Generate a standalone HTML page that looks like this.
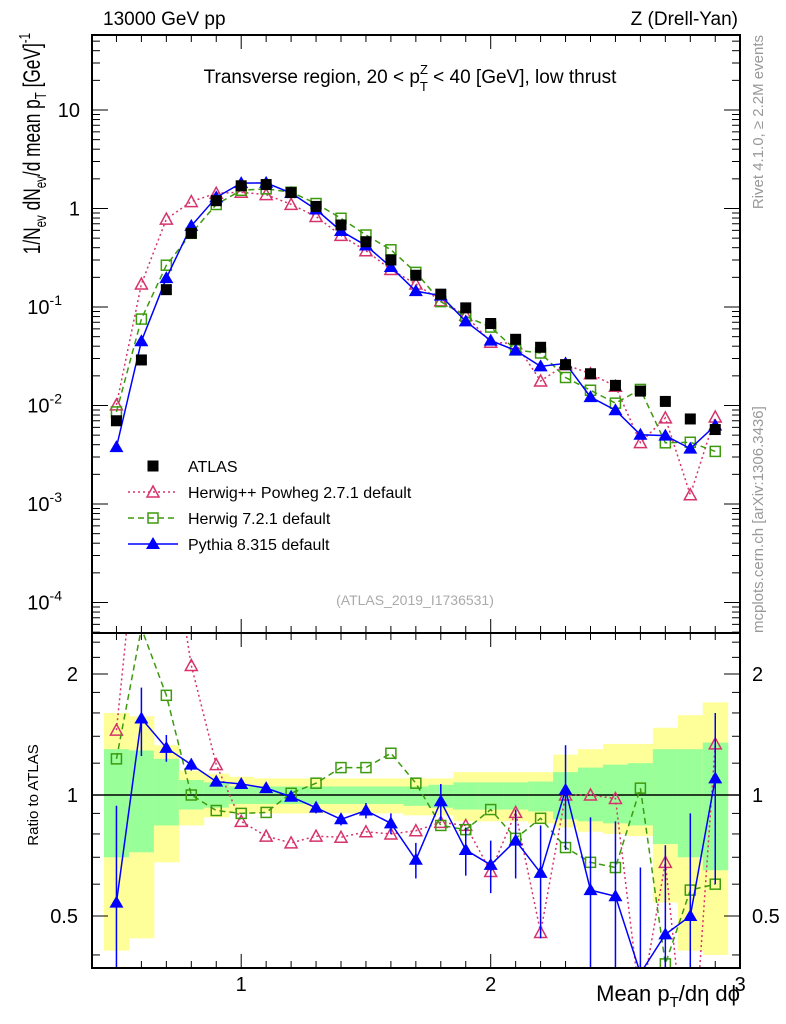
<!DOCTYPE html>
<html><head><meta charset="utf-8">
<style>
html,body{margin:0;padding:0;background:#fff;overflow:hidden;}
svg{display:block;font-family:"Liberation Sans",sans-serif;}
</style></head>
<body>
<svg id="chart" width="786" height="1024" viewBox="0 0 786 1024" xmlns="http://www.w3.org/2000/svg">
  <g id="bands"></g>
  <g id="grid"></g>
  <g id="series"></g>
  <rect x="92" y="35" width="648" height="598" fill="none" stroke="#000" stroke-width="2"/>
  <rect x="92" y="633" width="648" height="335" fill="none" stroke="#000" stroke-width="2"/>
  <text x="103" y="25" font-size="19">13000 GeV pp</text>
  <text x="738" y="25" font-size="19" text-anchor="end">Z (Drell-Yan)</text>
  <text x="410" y="83" font-size="19" text-anchor="middle">Transverse region, 20 &lt; p<tspan font-size="13" dy="-9">Z</tspan><tspan font-size="13" dx="-8" dy="17">T</tspan><tspan dy="-8"> &lt; 40 [GeV], low thrust</tspan></text>
  <text transform="translate(40,33) rotate(-90) scale(0.72,1)" font-size="24" text-anchor="end">1/N<tspan font-size="16" dy="6">ev</tspan><tspan dy="-6"> dN</tspan><tspan font-size="16" dy="6">ev</tspan><tspan dy="-6">/d mean p</tspan><tspan font-size="16" dy="6">T</tspan><tspan dy="-6"> [GeV]</tspan><tspan font-size="16" dy="-10">-1</tspan></text>
  <text transform="translate(38,795) rotate(-90)" font-size="15" text-anchor="middle">Ratio to ATLAS</text>
  <text x="740" y="1001" font-size="22" text-anchor="end">Mean p<tspan font-size="15" dy="6">T</tspan><tspan dy="-6">/dη dϕ</tspan></text>
  <text transform="translate(763,35) rotate(-90)" font-size="15" fill="#999" text-anchor="end">Rivet 4.1.0, ≥ 2.2M events</text>
  <text transform="translate(763,633) rotate(-90)" font-size="15" fill="#999">mcplots.cern.ch [arXiv:1306.3436]</text>
  <text x="415" y="605" font-size="14" fill="#aaa" text-anchor="middle">(ATLAS_2019_I1736531)</text>
  <g id="legend"></g>
</svg>
<script>
const xs = [0.5,0.6,0.7,0.8,0.9,1.0,1.1,1.2,1.3,1.4,1.5,1.6,1.7,1.8,1.9,2.0,2.1,2.2,2.3,2.4,2.5,2.6,2.7,2.8,2.9];
const atlas = [0.007,0.029,0.15,0.56,1.2,1.7,1.75,1.45,1.05,0.68,0.46,0.3,0.21,0.135,0.098,0.068,0.047,0.039,0.026,0.021,0.016,0.014,0.011,0.0073,0.0057];
const ratioHerwigPP = [1.45,5.9,5.2,2.1,1.19,0.86,0.79,0.76,0.79,0.785,0.81,0.8,0.815,0.855,0.84,0.645,0.905,0.455,1.0,1.0,0.98,0.3,0.68,0.17,1.34];
const ratioHerwig7 = [1.23,2.6,1.77,1.0,0.915,0.9,0.905,1.01,1.07,1.17,1.17,1.27,1.07,0.84,0.82,0.92,0.78,0.875,0.74,0.68,0.66,1.04,0.38,0.58,0.6];
const ratioPythia = [0.54,1.55,1.31,1.19,1.08,1.065,1.04,0.99,0.93,0.87,0.915,0.85,0.69,0.965,0.73,0.67,0.77,0.64,1.03,0.58,0.56,0.36,0.45,0.5,1.1];
const errPythia = [0.4,0.3,0.1,0.04,0.03,0.02,0.02,0.02,0.03,0.03,0.04,0.05,0.07,0.1,0.1,0.1,0.15,0.2,0.3,0.3,0.3,0.3,0.3,0.4,0.5];
const yellowHi = [1.6,1.57,1.33,1.15,1.13,1.11,1.1,1.1,1.1,1.1,1.1,1.1,1.1,1.1,1.14,1.14,1.14,1.14,1.26,1.3,1.34,1.34,1.47,1.58,1.7];
const yellowLo = [0.41,0.44,0.68,0.84,0.88,0.9,0.9,0.9,0.9,0.9,0.9,0.9,0.89,0.89,0.86,0.86,0.86,0.85,0.83,0.81,0.8,0.79,0.54,0.41,0.4];
const greenHi = [1.3,1.29,1.23,1.09,1.075,1.05,1.05,1.05,1.05,1.05,1.05,1.05,1.05,1.06,1.075,1.075,1.075,1.08,1.14,1.17,1.19,1.2,1.3,1.3,1.35];
const greenLo = [0.7,0.72,0.84,0.92,0.93,0.95,0.95,0.95,0.95,0.95,0.95,0.95,0.94,0.93,0.92,0.92,0.92,0.91,0.87,0.86,0.85,0.84,0.755,0.7,0.65];
const mainTicks = [10,1,0.1,0.01,0.001,0.0001];
const mainTickLabels = ["10","1","10^-1","10^-2","10^-3","10^-4"];
const ratioTicks = [0.5,1,2];
const xTicks = [1,2,3];

const NS="http://www.w3.org/2000/svg";
const X0=91.5, XS=249.5;
function sx(v){return X0+(v-0.4)*XS;}
function sy(v){return 110-(Math.log10(v)-1)*98.5;}
function ry(v){return 795-Math.log2(v)*121;}
function mk(parent,tag,attrs){const e=document.createElementNS(NS,tag);for(const k in attrs)e.setAttribute(k,attrs[k]);parent.appendChild(e);return e;}
const bands=document.getElementById('bands'),grid=document.getElementById('grid'),series=document.getElementById('series'),legend=document.getElementById('legend');

const defs=mk(document.getElementById('chart'),'defs',{});
const c1=mk(defs,'clipPath',{id:'cm'});mk(c1,'rect',{x:92,y:35,width:648,height:598});
const c2=mk(defs,'clipPath',{id:'cr'});mk(c2,'rect',{x:92,y:633,width:648,height:335});
bands.setAttribute('clip-path','url(#cr)');

xs.forEach((x,i)=>{
  const x1=sx(x-0.05),x2=sx(x+0.05);
  const y=mk(bands,'rect',{x:x1,y:ry(yellowHi[i]),width:x2-x1+0.5,height:ry(yellowLo[i])-ry(yellowHi[i]),fill:'#ffff99'});
  
  
  const g=mk(bands,'rect',{x:x1,y:ry(greenHi[i]),width:x2-x1+0.5,height:ry(greenLo[i])-ry(greenHi[i]),fill:'#99ff99'});
  
  
});
const one=mk(grid,'line',{x1:92,x2:740,y1:ry(1),y2:ry(1),stroke:'#000','stroke-width':1.5});



for(let k=5;k<=29;k++){
  const v=k/10, X=sx(v), maj=(k%10===0), L=maj?14:7;
  [[35,1],[633,-1],[633,1],[968,-1]].forEach(([y0,d])=>mk(grid,'line',{x1:X,x2:X,y1:y0,y2:y0+d*L,stroke:'#000','stroke-width':1}));
}
xTicks.forEach(v=>{
  const t=mk(grid,'text',{x:sx(v),y:991,'font-size':20,'text-anchor':'middle'});t.textContent=String(v);
  
  
});
for(let d=-5;d<=1;d++){
  for(let m=1;m<=9;m++){
    const v=m*Math.pow(10,d), Y=sy(v);
    if(Y<35||Y>633)continue;
    const L=m===1?16:8;
    mk(grid,'line',{x1:92,x2:92+L,y1:Y,y2:Y,stroke:'#000'});
    mk(grid,'line',{x1:740,x2:740-L,y1:Y,y2:Y,stroke:'#000'});
  }
}
mainTicks.forEach((v,i)=>{
  const lab=mainTickLabels[i];
  const t=mk(grid,'text',{x:80,y:sy(v)+7,'font-size':20,'text-anchor':'end'});
  
  
  if(lab.indexOf('^')>=0){const p=lab.split('^');t.setAttribute('x',62);t.textContent=p[0];const s=mk(t,'tspan',{'font-size':14,dy:-9});s.textContent=p[1];}
  else t.textContent=lab;
});
[0.4,0.5,0.6,0.7,0.8,0.9,1,1.2,1.4,1.6,1.8,2,2.2,2.4].forEach(v=>{
  const Y=ry(v);if(Y<633||Y>968)return;
  const L=(v===0.5||v===1||v===2)?16:8;
  mk(grid,'line',{x1:92,x2:92+L,y1:Y,y2:Y,stroke:'#000'});
  mk(grid,'line',{x1:740,x2:740-L,y1:Y,y2:Y,stroke:'#000'});
});
ratioTicks.forEach(v=>{
  const t=mk(grid,'text',{x:78,y:ry(v)+7,'font-size':20,'text-anchor':'end'});t.textContent=String(v);
  
  
  const t2=mk(grid,'text',{x:752,y:ry(v)+7,'font-size':20});t2.textContent=String(v);
  
  
});

function marker(g,type,x,y,color){
  if(type==='sq') return mk(g,'rect',{x:x-5.5,y:y-5.5,width:11,height:11,fill:'#000'});
  if(type==='osq') return mk(g,'rect',{x:x-5,y:y-5,width:10,height:10,fill:'none',stroke:color,'stroke-width':1.5});
  if(type==='otri') return mk(g,'polygon',{points:`${x},${y-6} ${x-6},${y+5} ${x+6},${y+5}`,fill:'none',stroke:color,'stroke-width':1.5});
  if(type==='tri') return mk(g,'polygon',{points:`${x},${y-7} ${x-7},${y+5} ${x+7},${y+5}`,fill:color});
}
const models=[
  {name:'herwigpp',ratio:ratioHerwigPP,color:'#d6336c',dash:'2,3',m:'otri'},
  {name:'herwig7',ratio:ratioHerwig7,color:'#3d9a0e',dash:'6,4',m:'osq'},
  {name:'pythia',ratio:ratioPythia,color:'#0000ff',dash:'',m:'tri',err:errPythia}
];
const gm=mk(series,'g',{'clip-path':'url(#cm)'});
const gr=mk(series,'g',{'clip-path':'url(#cr)'});
models.forEach(md=>{
  const vals=xs.map((x,i)=>atlas[i]*md.ratio[i]);
  const pl=mk(gm,'polyline',{points:xs.map((x,i)=>sx(x)+','+sy(vals[i])).join(' '),fill:'none',stroke:md.color,'stroke-width':1.5,'stroke-dasharray':md.dash});
  
  
  const rl=mk(gr,'polyline',{points:xs.map((x,i)=>sx(x)+','+ry(md.ratio[i])).join(' '),fill:'none',stroke:md.color,'stroke-width':1.5,'stroke-dasharray':md.dash});
  
  
  xs.forEach((x,i)=>{
    if(md.err){
      const e=mk(gr,'line',{x1:sx(x),x2:sx(x),y1:ry(md.ratio[i]+md.err[i]),y2:ry(Math.max(0.05,md.ratio[i]-md.err[i])),stroke:md.color,'stroke-width':1.5});
      
      
    }
    const p=marker(gm,md.m,sx(x),sy(vals[i]),md.color);
    
    
    const r=marker(gr,md.m,sx(x),ry(md.ratio[i]),md.color);
    
    
  });
});
xs.forEach((x,i)=>{
  const p=marker(gm,'sq',sx(x),sy(atlas[i]));
  
  
});

const entries=[
  {label:'ATLAS',m:'sq',color:'#000',dash:null},
  {label:'Herwig++ Powheg 2.7.1 default',m:'otri',color:'#d6336c',dash:'2,3'},
  {label:'Herwig 7.2.1 default',m:'osq',color:'#3d9a0e',dash:'6,4'},
  {label:'Pythia 8.315 default',m:'tri',color:'#0000ff',dash:''}
];
entries.forEach((e,i)=>{
  const y=466+i*26;
  const g=mk(legend,'g',{});
  
  
  if(e.dash!==null) mk(g,'line',{x1:128,x2:178,y1:y,y2:y,stroke:e.color,'stroke-width':1.5,'stroke-dasharray':e.dash});
  marker(g,e.m,153,y,e.color);
  const t=mk(g,'text',{x:188,y:y+6,'font-size':16});t.textContent=e.label;
});
</script>
</body></html>
